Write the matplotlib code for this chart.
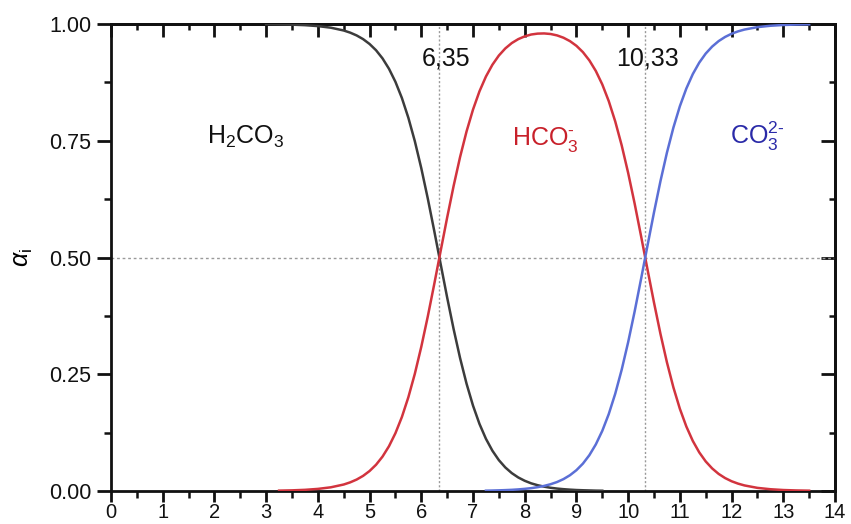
import numpy as np
import matplotlib
matplotlib.use("Agg")
import matplotlib.pyplot as plt
from matplotlib.ticker import MultipleLocator, FormatStrFormatter

plt.rcParams['font.family'] = ['Liberation Sans', 'DejaVu Sans']
plt.rcParams['mathtext.fontset'] = 'custom'
plt.rcParams['mathtext.rm'] = 'Liberation Sans'
plt.rcParams['mathtext.it'] = 'Liberation Sans:italic'

pH = [3.00, 3.25, 3.50, 3.75, 4.00, 4.25, 4.50,
      4.625, 4.75, 4.875, 5.00, 5.125, 5.25, 5.375, 5.50, 5.625, 5.75, 5.875,
      6.00, 6.125, 6.25, 6.375, 6.50, 6.625, 6.75, 6.875, 7.00, 7.125, 7.25,
      7.375, 7.50, 7.625, 7.75, 7.875, 8.00, 8.125, 8.25, 8.375, 8.50, 8.625,
      8.75, 8.875, 9.00, 9.125, 9.25, 9.375, 9.50, 9.625, 9.75, 9.875, 10.00,
      10.125, 10.25, 10.375, 10.50, 10.625, 10.75, 10.875, 11.00, 11.125,
      11.25, 11.375, 11.50, 11.625, 11.75, 11.875, 12.00, 12.125, 12.25,
      12.50, 12.75, 13.00, 13.25, 13.50]

# H2CO3: from pH 3.00 to 9.50
alpha_H2CO3 = [0.9996, 0.9992, 0.9986, 0.9975, 0.9955, 0.9921, 0.9861,
               0.9815, 0.9755, 0.9676, 0.9572, 0.9438, 0.9264, 0.9042, 0.8762,
               0.8415, 0.7992, 0.7491, 0.6912, 0.6267, 0.5573, 0.4856, 0.4145,
               0.3468, 0.2847, 0.2299, 0.1829, 0.1437, 0.1118, 0.0863, 0.0661,
               0.0504, 0.0383, 0.0290, 0.0219, 0.0164, 0.0124, 0.0093, 0.0069,
               0.0052, 0.0039, 0.0029, 0.0021, 0.0016, 0.0012, 0.0008, 0.0006]
# HCO3-: from pH 3.25 to 13.50
alpha_HCO3 = [0.0008, 0.0014, 0.0025, 0.0045, 0.0079, 0.0139,
              0.0185, 0.0245, 0.0324, 0.0428, 0.0562, 0.0736, 0.0958, 0.1238,
              0.1585, 0.2008, 0.2509, 0.3088, 0.3733, 0.4427, 0.5144, 0.5854,
              0.6531, 0.7151, 0.7698, 0.8167, 0.8558, 0.8875, 0.9127, 0.9325,
              0.9477, 0.9592, 0.9676, 0.9735, 0.9775, 0.9794, 0.9798, 0.9786,
              0.9756, 0.9706, 0.9633, 0.9533, 0.9398, 0.9221, 0.8994, 0.8706,
              0.8349, 0.7915, 0.7402, 0.6812, 0.6158, 0.5458, 0.4741, 0.4034,
              0.3364, 0.2755, 0.2219, 0.1761, 0.1382, 0.1073, 0.0827, 0.0633,
              0.0483, 0.0366, 0.0277, 0.0209, 0.0158, 0.0119,
              0.0067, 0.0038, 0.0021, 0.0012, 0.0007]
# CO3 2-: from pH 7.25 to 13.50
alpha_CO3 = [0.0007, 0.0010, 0.0014, 0.0019, 0.0025, 0.0034, 0.0046, 0.0061,
             0.0082, 0.0109, 0.0145, 0.0192, 0.0255, 0.0338, 0.0446, 0.0586,
             0.0767, 0.0998, 0.1288, 0.1647, 0.2082, 0.2596, 0.3186, 0.3841,
             0.4541, 0.5259, 0.5966, 0.6636, 0.7245, 0.7781, 0.8239, 0.8618,
             0.8927, 0.9173, 0.9367, 0.9517, 0.9634, 0.9723, 0.9791, 0.9842,
             0.9881, 0.9933, 0.9962, 0.9979, 0.9988, 0.9993]

pKa = [6.35, 10.33]
pKa_labels = ["6,35", "10,33"]
species = [r"H$_2$CO$_3$", r"HCO$_3^{\text{-}}$", r"CO$_3^{2\text{-}}$"]

fig = plt.figure(figsize=(8.51, 5.24), dpi=100)
ax = fig.add_axes([111 / 851, 33 / 524, 724 / 851, 467 / 524])

ax.plot(pH[:len(alpha_H2CO3)], alpha_H2CO3, color='#3c3c3c', lw=1.8, zorder=3)
ax.plot(pH[-len(alpha_HCO3):], alpha_HCO3, color='#d2343e', lw=1.8, zorder=3)
ax.plot(pH[-len(alpha_CO3):], alpha_CO3, color='#5b6fd6', lw=1.8, zorder=3)

for p in pKa:
    ax.axvline(p, color='#9a9a9a', lw=1.0, ls=(0, (1.5, 1.5)), zorder=1)
ax.axhline(0.5, color='#9a9a9a', lw=1.0, ls=(0, (2, 2)), zorder=1)

ax.set_xlim(0, 14)
ax.set_ylim(0, 1)
ax.xaxis.set_major_locator(MultipleLocator(1))
ax.xaxis.set_minor_locator(MultipleLocator(0.5))
ax.yaxis.set_major_locator(MultipleLocator(0.25))
ax.yaxis.set_minor_locator(MultipleLocator(0.125))
ax.yaxis.set_major_formatter(FormatStrFormatter('%.2f'))
ax.tick_params(axis='y', which='major', direction='out', length=10, width=2, labelsize=15.5,
               pad=4, colors='#111111')
ax.tick_params(axis='x', which='major', direction='out', length=8, width=2, labelsize=14.5,
               pad=0.5, colors='#111111')
ax.tick_params(which='minor', direction='out', length=5, width=1.8, colors='#111111')
for s in ax.spines.values():
    s.set_linewidth(2)
    s.set_color('#111111')

top = ax.secondary_xaxis('top')
top.xaxis.set_major_locator(MultipleLocator(1))
top.xaxis.set_minor_locator(MultipleLocator(0.5))
top.tick_params(which='major', direction='in', length=9, width=2, labeltop=False, colors='#111111')
top.tick_params(which='minor', direction='in', length=4, width=1.8, colors='#111111')
top.spines['top'].set_linewidth(2)
right = ax.secondary_yaxis('right')
right.yaxis.set_major_locator(MultipleLocator(0.25))
right.yaxis.set_minor_locator(MultipleLocator(0.125))
right.tick_params(which='major', direction='in', length=10, width=2, labelright=False, colors='#111111')
right.tick_params(which='minor', direction='in', length=4, width=1.8, colors='#111111')
right.spines['right'].set_linewidth(2)

ax.set_ylabel(r"$\alpha_\mathrm{i}$", fontsize=18)
ax.yaxis.set_label_coords(-0.105, 0.5)

ax.text(6.48, 0.912, pKa_labels[0], ha='center', va='baseline', fontsize=18, color='#111111')
ax.text(10.38, 0.912, pKa_labels[1], ha='center', va='baseline', fontsize=18, color='#111111')
ax.text(2.6, 0.743, species[0], ha='center', va='baseline', fontsize=18, color='#111111')
ax.text(8.4, 0.741, species[1], ha='center', va='baseline', fontsize=18, color='#c8202a')
ax.text(12.5, 0.743, species[2], ha='center', va='baseline', fontsize=18, color='#2a2aa8')

fig.savefig("out.png", dpi=100)
